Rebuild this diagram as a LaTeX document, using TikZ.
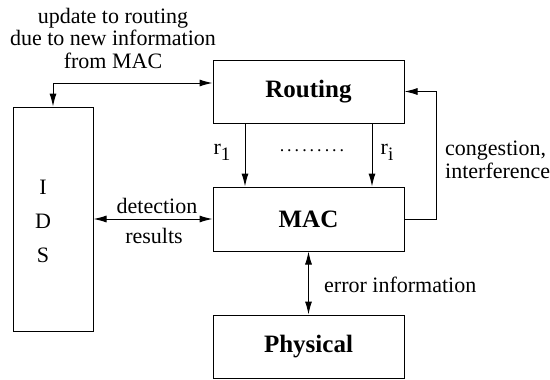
\documentclass[tikz,border=0pt]{standalone}
\usepackage{fontspec}
\setmainfont{Liberation Serif}
\usetikzlibrary{arrows.meta}
\begin{document}
\begin{tikzpicture}[x=1pt,y=-1pt,
  layer/.style={draw, line width=1pt, inner sep=0pt, font=\fontsize{25}{27}\selectfont\bfseries},
  lbl/.style={inner sep=0pt, font=\fontsize{22}{22.5}\selectfont},
  conn/.style={line width=1pt, -{Latex[length=13pt,width=7pt]}},
  biconn/.style={line width=1pt, {Latex[length=13pt,width=7pt]}-{Latex[length=13pt,width=7pt]}}]
\useasboundingbox (0,0) rectangle (550,380);
% protocol layers
\node[layer, minimum width=191pt, minimum height=63pt] (routing) at (308.5,91.5) {Routing};
\node[layer, minimum width=191pt, minimum height=64pt] (mac) at (308.5,219) {MAC};
\node[layer, minimum width=191pt, minimum height=63pt] (phys) at (308.5,346.5) {Physical};
% intrusion detection system
\node[draw, line width=1pt, minimum width=80pt, minimum height=224pt] (ids) at (53,219) {};
\node[lbl, align=center, font=\fontsize{22}{34}\selectfont] (idstext) at (43,221) {I\\D\\S};
% routing decisions
\draw[conn] ([xshift=-63.5pt]routing.south) -- ([xshift=-63.5pt]mac.north);
\draw[conn] ([xshift=63.5pt]routing.south) -- ([xshift=63.5pt]mac.north);
\node[lbl] (r1) at (222,152) {r\raisebox{-6pt}{\fontsize{19}{19}\selectfont 1}};
\node[lbl] (ri) at (387,152) {r\raisebox{-6pt}{\fontsize{19}{19}\selectfont i}};
\node[lbl, font=\fontsize{18}{18}\selectfont] (dots) at (312,151) {.\,.\,.\,.\,.\,.\,.\,.\,.};
% feedback from MAC to routing
\draw[conn] (mac.east) -- ++(32,0) |- (routing.east);
\node[lbl, align=left, anchor=west] (cong) at (445,160) {congestion,\\interference};
% IDS exchanges
\draw[biconn] (ids.north) |- ([yshift=8.5pt]routing.west);
\node[lbl, align=center] (upd) at (113,38) {update to routing\\due to new information\\from MAC};
\draw[biconn] (ids.east) -- (mac.west);
\node[lbl] (det) at (157,206) {detection};
\node[lbl] (res) at (154,236) {results};
% MAC and physical layer
\draw[biconn] (mac.south) -- (phys.north);
\node[lbl, anchor=west] (err) at (324,285) {error information};
\end{tikzpicture}
\end{document}
